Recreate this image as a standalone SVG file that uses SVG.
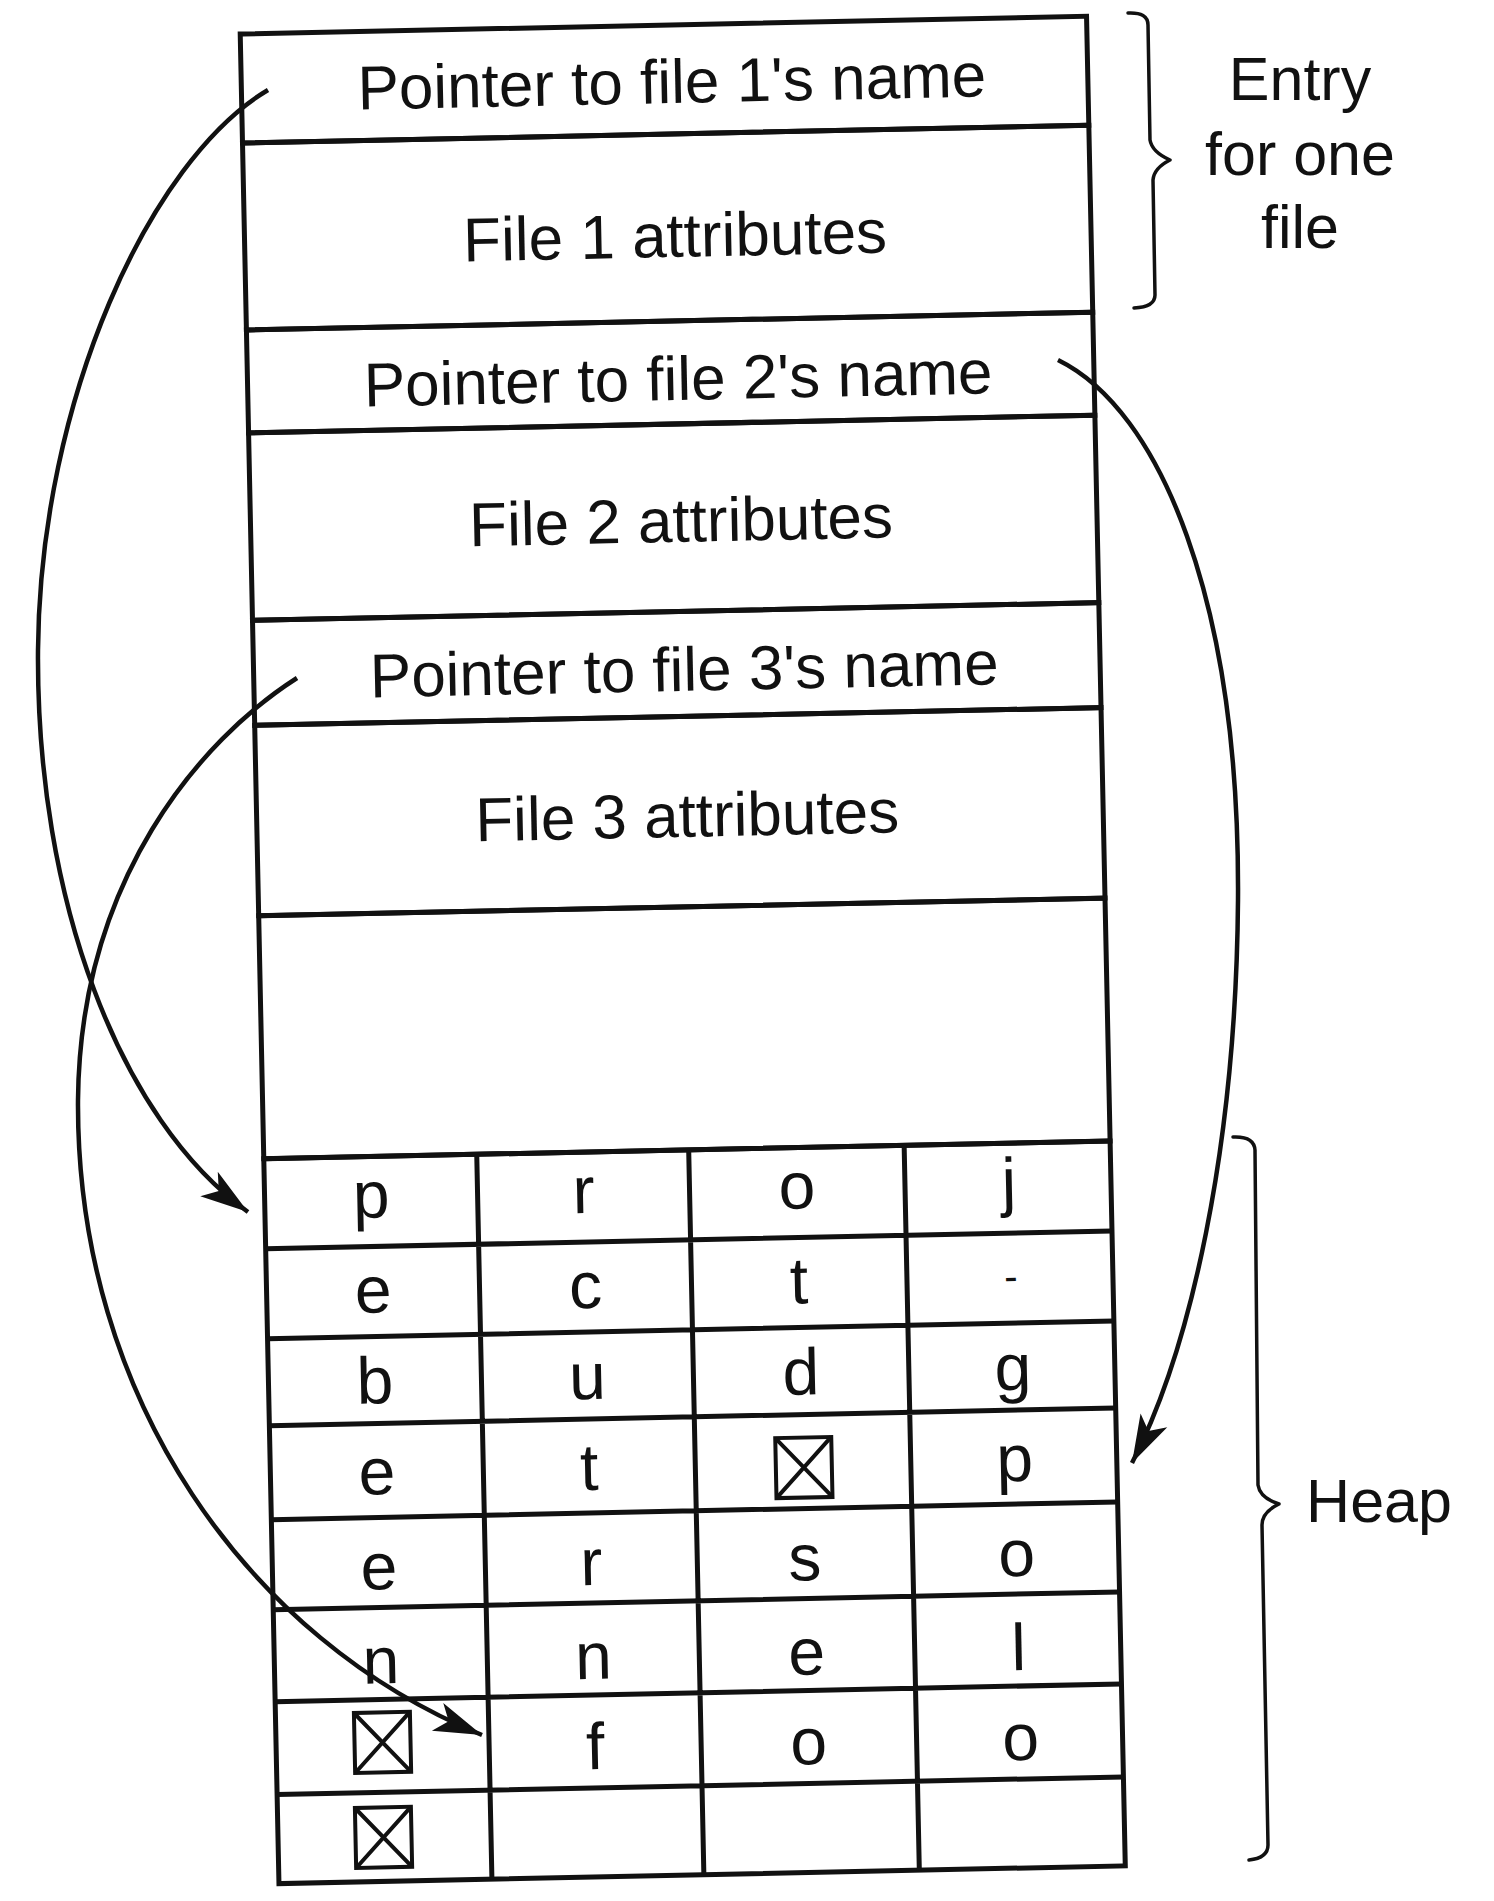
<svg xmlns="http://www.w3.org/2000/svg" width="1494" height="1901" viewBox="0 0 1494 1901">
<defs>
<style>
.bx{stroke:#111;stroke-width:5;fill:none}
.lbl{font-family:"Liberation Sans",Arial,sans-serif;font-size:62px;fill:#111;text-anchor:middle}
.side{font-family:"Liberation Sans",Arial,sans-serif;font-size:61px;fill:#111;text-anchor:middle}
.ch{font-family:"Liberation Sans",Arial,sans-serif;font-size:66px;fill:#111;text-anchor:middle}
.xb{stroke:#111;stroke-width:4;fill:none}
.br{stroke:#111;stroke-width:3.5;fill:none;stroke-linejoin:round;stroke-linecap:round}
.cn{stroke:#111;stroke-width:4.5;fill:none}
</style>
<marker id="ah" markerUnits="userSpaceOnUse" markerWidth="60" markerHeight="40" refX="50" refY="17" orient="auto" viewBox="0 0 60 34">
<path d="M50,17 L2,2 L14,17 L2,32 Z" fill="#111"/>
</marker>
<g id="xbox"><rect x="-28" y="-30" width="56" height="60" class="xb"/><path d="M-28,-30 L28,30 M28,-30 L-28,30" class="xb"/></g>
</defs>
<rect width="1494" height="1901" fill="#fff"/>
<g transform="rotate(-1.2 680 950)">
<g id="ptr1"><rect x="259.5" y="25" width="846.5" height="109" class="bx"/><text x="690" y="103" class="lbl">Pointer to file 1's name</text></g>
<g id="attr1"><rect x="259.5" y="134" width="846.5" height="187" class="bx"/><text x="690" y="257" class="lbl">File 1 attributes</text></g>
<g id="ptr2"><rect x="259.5" y="321" width="846.5" height="103" class="bx"/><text x="690" y="400" class="lbl">Pointer to file 2's name</text></g>
<g id="attr2"><rect x="259.5" y="424" width="846.5" height="187.5" class="bx"/><text x="690" y="542" class="lbl">File 2 attributes</text></g>
<g id="ptr3"><rect x="259.5" y="611.5" width="846.5" height="105" class="bx"/><text x="690" y="691" class="lbl">Pointer to file 3's name</text></g>
<g id="attr3"><rect x="259.5" y="716.5" width="846.5" height="190.5" class="bx"/><text x="690" y="837" class="lbl">File 3 attributes</text></g>
<g id="free"><rect x="259.5" y="907" width="846.5" height="243" class="bx"/></g>
<g id="heap">
<rect x="259.5" y="1150" width="846.5" height="725" class="bx"/>
<path d="M259.5,1240 H1106 M259.5,1330 H1106 M259.5,1417 H1106 M259.5,1511 H1106 M259.5,1601 H1106 M259.5,1693 H1106 M259.5,1786 H1106 M472.5,1150 V1875 M684.5,1150 V1875 M900,1150 V1875" class="bx"/>
<g class="ch">
<text x="366" y="1211">p</text><text x="578.5" y="1211">r</text><text x="792" y="1211">o</text><text x="1004" y="1211">j</text>
<text x="366" y="1306">e</text><text x="578.5" y="1306">c</text><text x="792" y="1306">t</text><text x="1004" y="1297" style="font-size:40px">-</text>
<text x="366" y="1397">b</text><text x="578.5" y="1397">u</text><text x="792" y="1397">d</text><text x="1004" y="1397">g</text>
<text x="366" y="1488">e</text><text x="578.5" y="1488">t</text><text x="1004" y="1488">p</text>
<text x="366" y="1583">e</text><text x="578.5" y="1583">r</text><text x="792" y="1583">s</text><text x="1004" y="1583">o</text>
<text x="366" y="1677">n</text><text x="578.5" y="1677">n</text><text x="792" y="1677">e</text><text x="1004" y="1677">l</text>
<text x="578.5" y="1767">f</text><text x="792" y="1767">o</text><text x="1004" y="1767">o</text>
</g>
<use href="#xbox" x="793" y="1470"/>
<use href="#xbox" x="366" y="1736"/>
<use href="#xbox" x="365" y="1831"/>
</g>
</g>
<g id="entry-brace">
<path d="M1128,13 Q1148,12 1148,25 L1150,140 Q1152,152 1170,160 Q1154,168 1153,180 L1155,295 Q1155,307 1134,308" class="br"/>
<text x="1300" y="100" class="side">Entry</text>
<text x="1300" y="175" class="side">for one</text>
<text x="1300" y="248" class="side">file</text>
</g>
<g id="heap-brace">
<path d="M1233,1137 Q1254,1136 1255,1150 L1258,1485 Q1260,1498 1279,1504 Q1262,1512 1262,1525 L1268,1845 Q1268,1858 1249,1860" class="br"/>
<text x="1379" y="1522" class="side">Heap</text>
</g>
<g id="connectors">
<path d="M268,90 C150,160 40,400 38,650 C36,900 120,1120 248,1212" class="cn" marker-end="url(#ah)"/>
<path d="M1058,360 C1160,410 1240,600 1238,900 C1236,1150 1190,1350 1132,1463" class="cn" marker-end="url(#ah)"/>
<path d="M297,678 C200,740 80,880 78,1100 C76,1400 250,1640 482,1735" class="cn" marker-end="url(#ah)"/>
</g>
</svg>
